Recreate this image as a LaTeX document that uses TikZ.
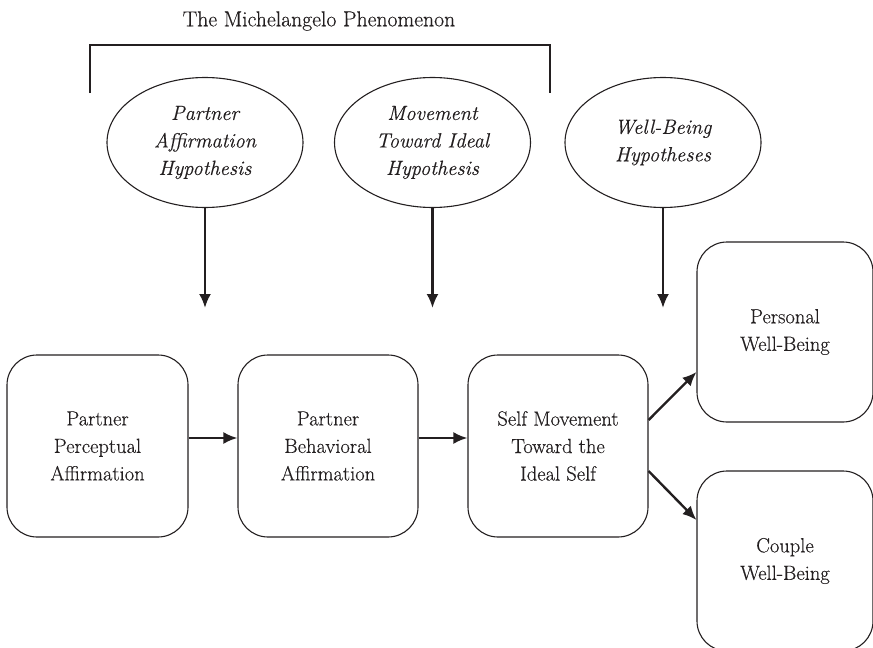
\documentclass[tikz,border=0pt]{standalone}
\usepackage{fontspec}
\setmainfont{Latin Modern Roman}[FakeBold=0.35, ItalicFeatures={FakeBold=0.35}]
\usetikzlibrary{shapes.geometric,arrows.meta}
\definecolor{ink}{RGB}{35,31,32}
\begin{document}
\begin{tikzpicture}[x=1pt,y=-1pt,
  every node/.style={text=ink, font=\fontsize{20.5}{27.5}\selectfont},
  stepbox/.style={draw=ink, line width=1.1pt, rounded corners=30pt, align=center, inner sep=0pt},
  hyp/.style={draw=ink, line width=1.1pt, ellipse, inner sep=0pt, minimum width=196pt, minimum height=130pt, align=center, font=\fontsize{20.5}{27.5}\selectfont\itshape},
  arr/.style={draw=ink, line width=2.4pt, -{Latex[length=14pt,width=12pt]}},
  brk/.style={draw=ink, line width=1.1pt}]
\useasboundingbox (0,0) rectangle (873,648);
\begin{scope}
\clip (0,0) rectangle (873,648);
% title and bracket
\node[font=\fontsize{21.7}{28}\selectfont] (title) at (319,21) {The Michelangelo Phenomenon};
\coordinate (bl) at (90,93);
\coordinate (blt) at (90,45);
\coordinate (brt) at (550,45);
\coordinate (br) at (550,93);
\draw[brk] (bl) -- (blt) -- (brt) -- (br);
% hypotheses
\node[hyp] (e1) at (205,142.5) {Partner\\Affirmation\\Hypothesis};
\node[hyp] (e2) at (432.5,142.5) {Movement\\Toward Ideal\\Hypothesis};
\node[hyp] (e3) at (663,142.5) {Well-Being\\Hypotheses};
\coordinate (t1) at (205,308);
\coordinate (t2) at (432.5,308);
\coordinate (t3) at (663,308);
\draw[arr] (e1.south) -- (t1);
\draw[arr] (e2.south) -- (t2);
\draw[arr] (e3.south) -- (t3);
% boxes
\node[stepbox, minimum width=181pt, minimum height=182pt] (b1) at (97.5,446) {Partner\\Perceptual\\Affirmation};
\node[stepbox, minimum width=180pt, minimum height=182pt] (b2) at (328,446) {Partner\\Behavioral\\Affirmation};
\node[stepbox, minimum width=180pt, minimum height=182pt] (b3) at (558,446) {Self Movement\\Toward the\\Ideal Self};
\node[stepbox, minimum width=176pt, minimum height=180pt] (b4) at (785,332) {Personal\\Well-Being};
\node[stepbox, minimum width=176pt, minimum height=180pt] (b5) at (785,561) {Couple\\Well-Being};
\draw[arr] ([yshift=8pt]b1.east) -- ([yshift=8pt]b2.west);
\draw[arr] ([yshift=8pt]b2.east) -- ([yshift=8pt]b3.west);
\draw[arr] ([yshift=26pt]b3.east) -- ([yshift=-40pt]b4.west);
\draw[arr] ([yshift=-25pt]b3.east) -- ([yshift=41pt]b5.west);
\end{scope}
\end{tikzpicture}
\end{document}
